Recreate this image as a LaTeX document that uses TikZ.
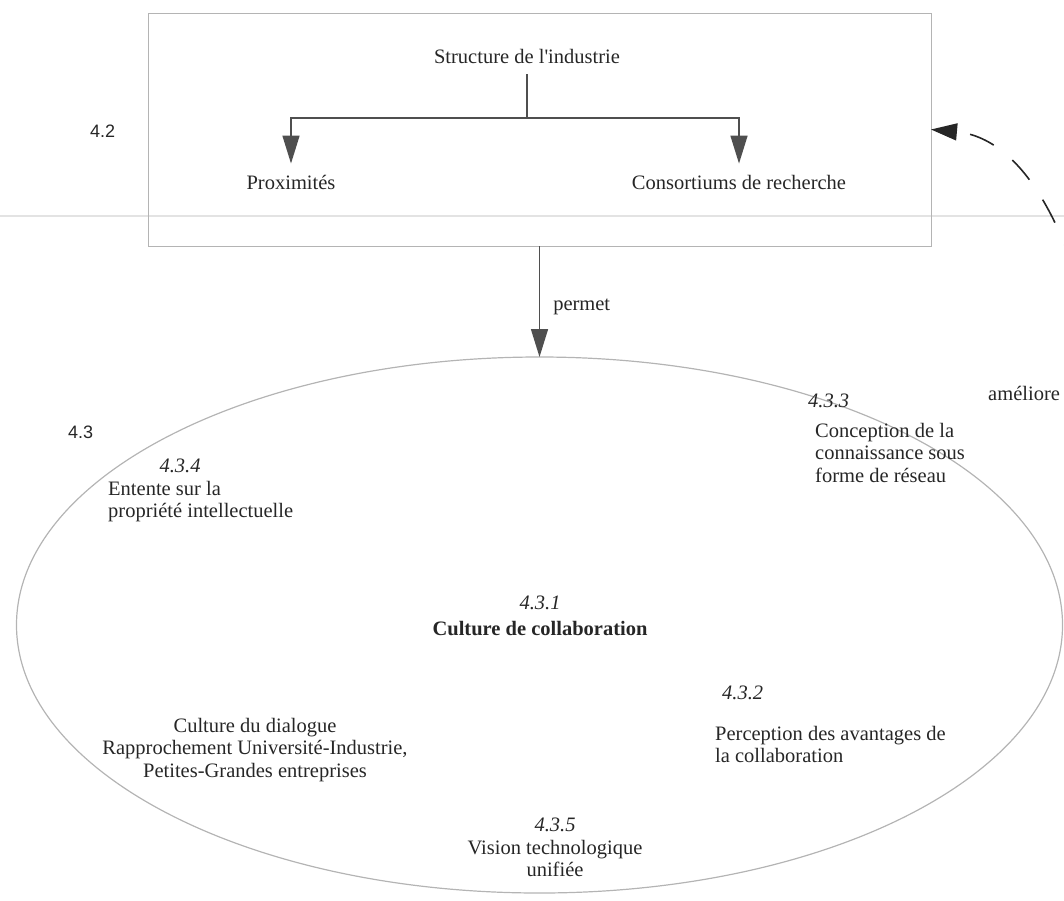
\documentclass[tikz,border=0pt]{standalone}
\usepackage{fontspec}
\setmainfont{Liberation Serif}
\setsansfont{Liberation Sans}
\usetikzlibrary{arrows.meta,shapes.geometric}
\definecolor{ink}{HTML}{262626}
\definecolor{arrowgray}{HTML}{4F4F4F}
\definecolor{framegray}{HTML}{B4B4B4}
\begin{document}
\begin{tikzpicture}[x=1pt,y=-1pt,
  txt/.style={inner sep=0pt, text=ink, font=\fontsize{20.5}{22.5}\selectfont},
  secno/.style={inner sep=0pt, text=ink, font=\itshape\fontsize{20.5}{22.5}\selectfont},
  boldtxt/.style={inner sep=0pt, text=ink, font=\bfseries\fontsize{20.5}{22.5}\selectfont},
  levelno/.style={inner sep=0pt, text=ink, font=\sffamily\fontsize{18}{20}\selectfont},
  link/.style={draw=arrowgray, line width=1.5pt},
  arr/.style={link, -{Triangle[length=28pt,width=17pt,fill=arrowgray]}},
  loop/.style={draw=ink, line width=1.6pt, dash pattern=on 26pt off 24pt, dash phase=30pt,
    -{Triangle[length=26pt,width=17pt,fill=ink]}},
]
\useasboundingbox (0,0) rectangle (1064,900);

% faint horizontal streak across the page
\draw[gray!22, line width=1.5pt] (0,216) -- (1064,216);

% frame of section 4.2
\node[draw=framegray, line width=1pt, minimum width=783pt, minimum height=233pt,
      inner sep=0pt, outer sep=0pt] (box) at (539.5,129.5) {};

% ellipse of section 4.3
\node[ellipse, draw=framegray, line width=1.2pt, minimum width=1046pt,
      minimum height=536pt, inner sep=0pt, outer sep=0pt] (ell) at (539.5,625) {};

% contents of 4.2
\node[txt, anchor=base] (struct) at (527,63) {Structure de l\textquotesingle industrie};
\node[txt, anchor=base] (prox) at (291,189) {Proximités};
\node[txt, anchor=base] (cons) at (739,189) {Consortiums de recherche};
\coordinate (split) at (527,118);
\draw[link, shorten <=11pt] (struct.south) -- (split);
\draw[arr, shorten >=11pt] (split) -| (prox.north);
\draw[arr, shorten >=11pt] (split) -| (cons.north);

% section numbers
\node[levelno, anchor=base west] (n42) at (90,137) {4.2};
\node[levelno, anchor=base west] (n43) at (68,438) {4.3};

% link between the two sections
\draw[arr] (box.south) -- node[txt, anchor=base west, xshift=13pt, yshift=-9pt] (permet) {permet} (ell.north);

% feedback loop back to the frame
\draw[loop] (ell.east) .. controls (1150,560) and (1100,145) .. (box.east);
\node[txt, anchor=base west] (amel) at (988,400) {améliore};

% contents of 4.3
\node[secno, anchor=base] (s434) at (180,472) {4.3.4};
\node[txt, anchor=north west, align=left] (t434) at (108,481)
  {Entente sur la\\propriété intellectuelle};

\node[secno, anchor=base west] (s433) at (808,407) {4.3.3};
\node[txt, anchor=north west, align=left] (t433) at (815,423)
  {Conception de la\\connaissance sous\\forme de réseau};

\node[secno, anchor=base] (s431) at (540,609) {4.3.1};
\node[boldtxt, anchor=base] (t431) at (540,635) {Culture de collaboration};

\node[secno, anchor=base west] (s432) at (722,699) {4.3.2};
\node[txt, anchor=north west, align=left] (t432) at (715,726)
  {Perception des avantages de\\la collaboration};

\node[txt, anchor=north, align=center] (dial) at (255,718)
  {Culture du dialogue\\Rapprochement Université-Industrie,\\Petites-Grandes entreprises};

\node[secno, anchor=base] (s435) at (555,831) {4.3.5};
\node[txt, anchor=north, align=center] (t435) at (555,840)
  {Vision technologique\\unifiée};
\end{tikzpicture}
\end{document}
